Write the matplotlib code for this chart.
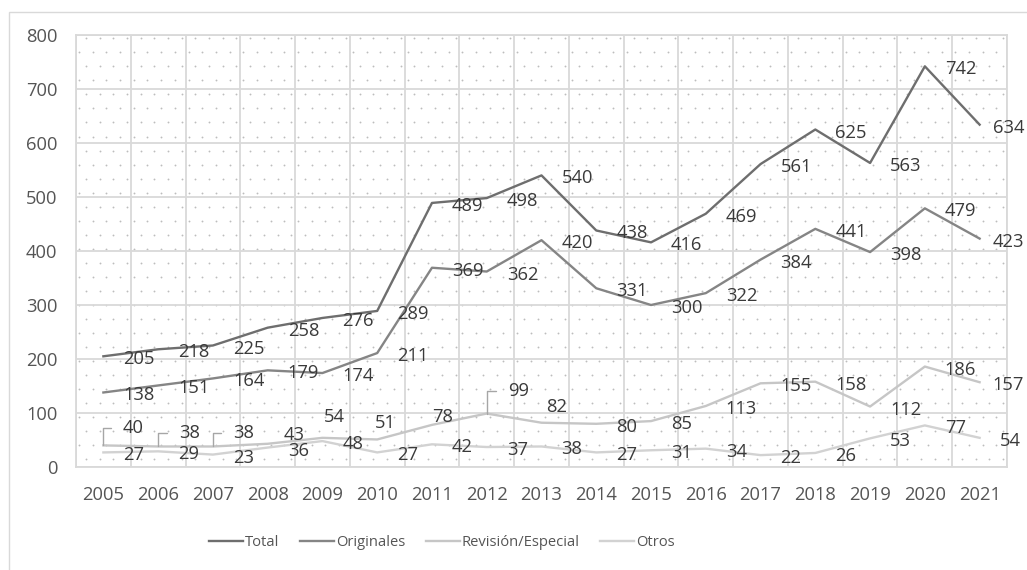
import matplotlib
matplotlib.use("Agg")
import matplotlib.pyplot as plt
import numpy as np
from matplotlib.patches import Rectangle

plt.rcParams["font.family"] = ["Open Sans", "DejaVu Sans"]

years = [str(y) for y in range(2005, 2022)]
total = [205, 218, 225, 258, 276, 289, 489, 498, 540, 438, 416, 469, 561, 625, 563, 742, 634]
originales = [138, 151, 164, 179, 174, 211, 369, 362, 420, 331, 300, 322, 384, 441, 398, 479, 423]
revision = [40, 38, 38, 43, 54, 51, 78, 99, 82, 80, 85, 113, 155, 158, 112, 186, 157]
otros = [27, 29, 23, 36, 48, 27, 42, 37, 38, 27, 31, 34, 22, 26, 53, 77, 54]
names = ["Total", "Originales", "Revisión/Especial", "Otros"]

colors = ["#6e6e6e", "#858585", "#c6c6c6", "#d2d2d2"]
GRID = "#d9d9d9"

# label placement in pixels (dx to label's left edge, dy downwards), Excel "right" by default
DEFAULT_OFF = (20, 3)
label_off = {
    (0, 16): (13, 3),
    (1, 16): (13, 3),
    (2, 0): (19, -17),
    (2, 1): (21, -13),
    (2, 2): (20, -13),
    (2, 3): (16, -9),
    (2, 4): (1, -21),
    (2, 5): (-2, -16),
    (2, 6): (0, -8),
    (2, 7): (21, -23),
    (2, 8): (5, -16),
    (2, 16): (13, 3),
}
leaders = {(2, 0), (2, 1), (2, 2), (2, 7)}

fig = plt.figure(figsize=(10.27, 5.70), dpi=100)
ax = fig.add_axes([76 / 1027, 1 - 467 / 570, 931 / 1027, 432 / 570])

# figure border (chart area frame)
fig.patches.append(Rectangle((9 / 1027, -0.05), 1.2, 1 - 12 / 570 + 0.05,
                             transform=fig.transFigure, fill=False,
                             edgecolor=GRID, lw=1))

x = np.arange(len(years))

# dotted background pattern
rows = np.arange(794, 0, -26)
for k, yy in enumerate(rows):
    start = -0.5 + (0.18 if k % 2 == 0 else 0.055)
    xs = np.arange(start, 16.5, 0.25)
    ax.scatter(xs, np.full_like(xs, yy), s=1.8, color="#bdbdbd",
               linewidths=0, zorder=0.2)

series = [total, originales, revision, otros]
for s, vals in enumerate(series):
    ax.plot(x, vals, color=colors[s], lw=1.7, label=names[s], zorder=3)

for s, vals in enumerate(series):
    for i, v in enumerate(vals):
        dx, dy = label_off.get((s, i), DEFAULT_OFF)
        kw = {}
        if (s, i) in leaders:
            kw["arrowprops"] = dict(arrowstyle="-", color="#a6a6a6", lw=1,
                                    shrinkA=6.5, shrinkB=0, relpos=(0, 0.5),
                                    connectionstyle="angle,angleA=0,angleB=90,rad=0")
        ax.annotate(str(v), (i, v), xytext=(dx, -dy), textcoords="offset pixels",
                    ha="left", va="center", fontsize=13.2, color="#3a3a3a",
                    zorder=5, **kw)

ax.set_xlim(-0.5, 16.5)
ax.set_ylim(0, 800)
ax.set_xticks(x)
ax.set_xticklabels(years)
ax.set_xticks(np.arange(-0.5, 17, 1), minor=True)
ax.set_yticks(np.arange(0, 801, 100))
ax.set_axisbelow(True)
ax.grid(which="minor", axis="x", color=GRID, lw=1.3)
ax.grid(which="major", axis="y", color=GRID, lw=1.3)
ax.tick_params(axis="both", which="both", length=0, labelsize=13.2,
               labelcolor="#555555")
ax.tick_params(axis="x", pad=14)
ax.tick_params(axis="y", pad=13.5)
for sp in ax.spines.values():
    sp.set_color(GRID)
    sp.set_linewidth(1.3)

fig.legend(loc="center", bbox_to_anchor=(442 / 1027, 1 - 543 / 570), ncol=4,
           frameon=False, fontsize=10.6, handlelength=2.3, handletextpad=0.15,
           columnspacing=1.4, labelcolor="#555555")

fig.savefig("out.png", dpi=100)
